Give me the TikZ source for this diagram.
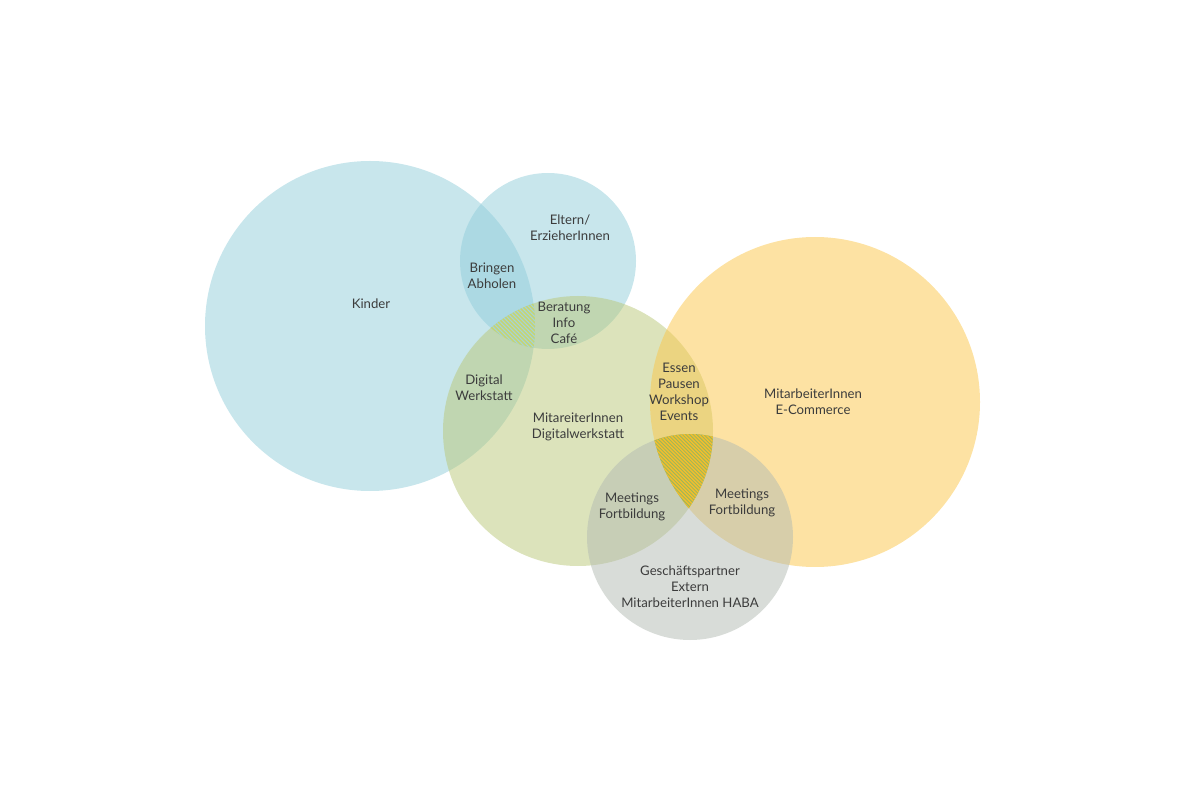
\documentclass[tikz,border=0pt]{standalone}
\usepackage{fontspec}
\setmainfont{Lato}
\definecolor{cblue}{RGB}{145,205,218}
\definecolor{cgreen}{RGB}{185,200,120}
\definecolor{cyellow}{RGB}{251,198,72}
\definecolor{cgray}{RGB}{178,186,178}
\definecolor{txt}{RGB}{60,60,60}
\definecolor{hatchA}{RGB}{200,212,110}
\definecolor{hatchAbase}{RGB}{165,212,216}
\definecolor{hatchB}{RGB}{242,190,45}
\definecolor{hatchBbase}{RGB}{155,182,92}
\begin{document}
\begin{tikzpicture}[x=0.02cm,y=-0.02cm,
  bubble/.style={fill=#1,fill opacity=0.5,draw=none},
  lbl/.style={text=txt,font=\fontsize{7.5}{9.2}\selectfont,align=center,inner sep=0pt}]
\useasboundingbox (0,0) rectangle (1200,800);
% circles
\path[bubble=cblue] (370,326) circle (165);
\path[bubble=cblue] (548,261) circle (88);
\path[bubble=cgreen] (578,431) circle (135);
\path[bubble=cyellow] (815,402) circle (165);
\path[bubble=cgray] (690,537) circle (103);
% hatch 1: Kinder, Eltern and green overlap
\begin{scope}
  \clip (370,326) circle (165);
  \clip (548,261) circle (88);
  \clip (578,431) circle (135);
  \fill[hatchAbase] (440,280) rectangle (560,360);
  \foreach \k in {-30,...,30}
    \draw[hatchA,line width=0.8pt] (500+4*\k-60,320-60) -- (500+4*\k+60,320+60);
\end{scope}
% hatch 2: green, yellow and gray overlap
\begin{scope}
  \clip (578,431) circle (135);
  \clip (815,402) circle (165);
  \clip (690,537) circle (103);
  \fill[hatchBbase] (630,420) rectangle (730,520);
  \foreach \k in {-45,...,45}
    \draw[hatchB,line width=0.8pt] (680+3.6*\k-80,470-80) -- (680+3.6*\k+80,470+80);
\end{scope}
% labels
\node[lbl] (kinder) at (371,304) {Kinder};
\node[lbl] (eltern) at (570,228) {Eltern/\\ErzieherInnen};
\node[lbl] (bringen) at (492,276) {Bringen\\Abholen};
\node[lbl] (beratung) at (564,323) {Beratung\\Info\\Café};
\node[lbl] (digital) at (484,388) {Digital\\Werkstatt};
\node[lbl] (mitdw) at (578,427) {MitareiterInnen\\Digitalwerkstatt};
\node[lbl] (essen) at (679,392) {Essen\\Pausen\\Workshop\\Events};
\node[lbl] (ecom) at (813,402) {MitarbeiterInnen\\E-Commerce};
\node[lbl] (meet1) at (632,507) {Meetings\\Fortbildung};
\node[lbl] (meet2) at (742,503) {Meetings\\Fortbildung};
\node[lbl] (geschaeft) at (690,587) {Geschäftspartner\\Extern\\MitarbeiterInnen HABA};
\end{tikzpicture}
\end{document}
